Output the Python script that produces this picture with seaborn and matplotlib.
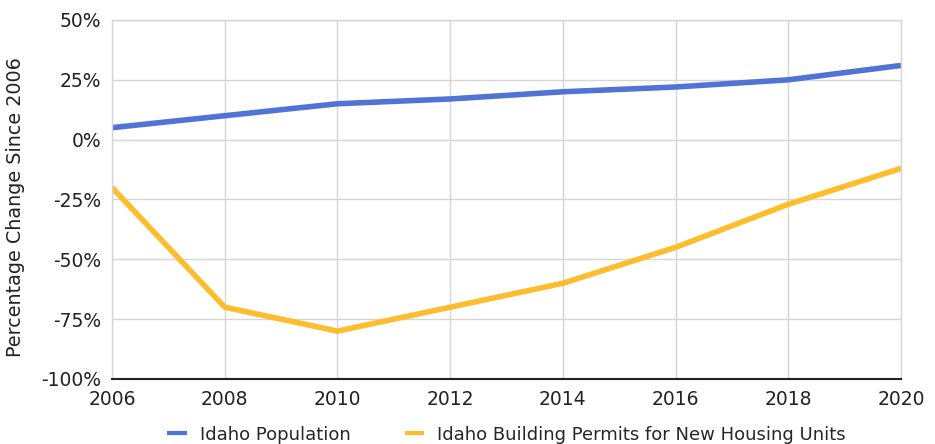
import matplotlib
matplotlib.use("Agg")
import matplotlib.pyplot as plt
import matplotlib.ticker as mticker
import pandas as pd
import seaborn as sns

years = [2006, 2008, 2010, 2012, 2014, 2016, 2018, 2020]
population_change = [5, 10, 15, 17, 20, 22, 25, 31]
permits_change = [-20, -70, -80, -70, -60, -45, -27, -12]
series_names = ["Idaho Population", "Idaho Building Permits for New Housing Units"]
series_colors = ["#4f74d6", "#fdbd2c"]
y_ticks = [-100, -75, -50, -25, 0, 25, 50]

df = pd.concat([
    pd.DataFrame({"year": years, "change": population_change, "series": series_names[0]}),
    pd.DataFrame({"year": years, "change": permits_change, "series": series_names[1]}),
])

sns.set_theme(style="white")
plt.rcParams["font.family"] = ["DejaVu Sans"]

fig = plt.figure(figsize=(9.35, 4.44), dpi=100)
ax = fig.add_axes([0.1198, 0.1464, 0.8438, 0.8086])

sns.lineplot(data=df, x="year", y="change", hue="series", palette=series_colors,
             linewidth=4, ax=ax, legend=True, solid_capstyle="butt")

ax.set_xlim(2006, 2020)
ax.set_ylim(-100, 50)
ax.set_xticks(years)
ax.set_yticks(y_ticks)
ax.yaxis.set_major_formatter(mticker.FuncFormatter(lambda v, p: f"{int(v)}%"))
ax.grid(True, color="#d6d6d6", linewidth=1)
ax.set_axisbelow(True)
for side in ["top", "right", "left"]:
    ax.spines[side].set_color("#d6d6d6")
    ax.spines[side].set_linewidth(1)
ax.spines["bottom"].set_color("#222222")
ax.spines["bottom"].set_linewidth(1.5)
ax.tick_params(axis="both", length=0, labelsize=13.5, colors="#222222")
ax.tick_params(axis="x", pad=8)
ax.tick_params(axis="y", pad=8)
ax.set_xlabel("")
ax.set_ylabel("Percentage Change Since 2006", fontsize=13.8, color="#222222", labelpad=7)
ax.yaxis.set_label_coords(-0.11, 0.48)

handles, labels = ax.get_legend_handles_labels()
for h in handles:
    h.set_linewidth(3)
ax.legend(handles, labels, loc="center", bbox_to_anchor=(0.5, -0.155), ncol=2,
          frameon=False, fontsize=13, handlelength=1.1, handletextpad=0.7,
          columnspacing=3.0, borderaxespad=0)

fig.savefig("out.png", dpi=100)
